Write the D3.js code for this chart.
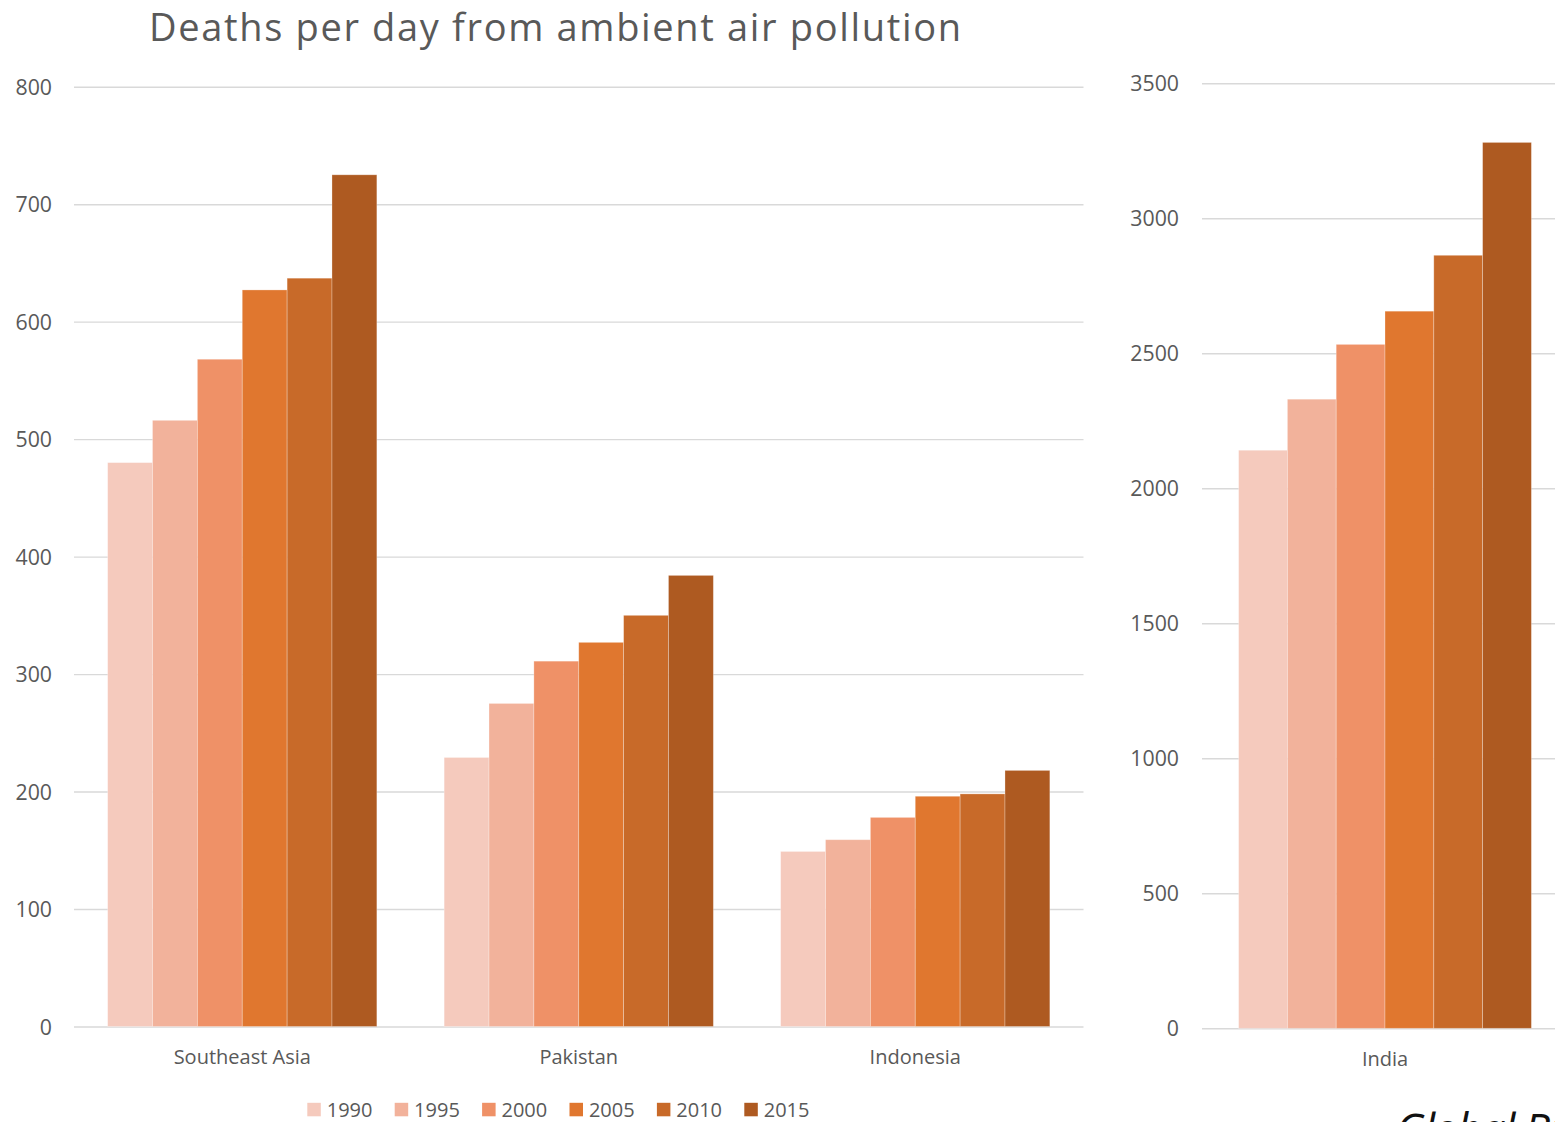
<!DOCTYPE html>
<html>
<head>
<meta charset="utf-8">
<script src="https://cdn.jsdelivr.net/npm/d3@7"></script>
<style>
  html, body { margin: 0; padding: 0; background: #fff; overflow: hidden; }
  svg { display: block; font-family: "Open Sans", "Noto Sans", sans-serif; }
</style>
</head>
<body>
<svg id="chart" width="1555" height="1122"></svg>
<script>
// Deaths per day from ambient air pollution, by region and year
const years = ["1990", "1995", "2000", "2005", "2010", "2015"];
const regions = ["Southeast Asia", "Pakistan", "Indonesia"];
const southeastAsia = [480, 516, 568, 627, 637, 725];
const pakistan = [229, 275, 311, 327, 350, 384];
const indonesia = [149, 159, 178, 196, 198, 218];
const indiaCategory = ["India"];
const india = [2141, 2330, 2533, 2656, 2863, 3281];
const leftTicks = [0, 100, 200, 300, 400, 500, 600, 700, 800];
const rightTicks = [0, 500, 1000, 1500, 2000, 2500, 3000, 3500];
const colors = ["#F5CABD", "#F2B29B", "#EF9167", "#E0772F", "#C86A29", "#AE5A21"];

const regionValues = [southeastAsia, pakistan, indonesia];
const leftRows = regions.map((r, i) => ({ name: r, values: regionValues[i] }));
const rightRows = indiaCategory.map(r => ({ name: r, values: india }));

const svg = d3.select("#chart");
const textGray = "#595959";
const gridColor = "#D9D9D9";

// Title: near-natural spacing, nudged to span its full width
const titleText = "Deaths per day from ambient air pollution";
const title = svg.append("text")
  .attr("x", 149).attr("y", 40.5)
  .attr("fill", textGray)
  .style("font-size", "38px")
  .text(titleText);
const tw = title.node().getComputedTextLength();
title.style("letter-spacing", ((812 - tw) / (titleText.length - 1)) + "px");

function panel(rows, tickVals, domainMax, xRange, yRange, labelPad, catBaselineOffset) {
  const g = svg.append("g");
  const y = d3.scaleLinear().domain([0, domainMax]).range(yRange);
  const x0 = d3.scaleBand().domain(rows.map(d => d.name)).range(xRange)
    .paddingInner(0.2).paddingOuter(0.1);
  const x1 = d3.scaleBand().domain(years).range([0, x0.bandwidth()]);
  const gridStart = xRange[0];
  const gridEnd = xRange[1];

  // value axis with full-width gridlines
  const yAxis = d3.axisLeft(y).tickValues(tickVals)
    .tickSize(-(gridEnd - gridStart)).tickPadding(labelPad)
    .tickFormat(d3.format("d"));
  const ya = g.append("g").attr("transform", `translate(${gridStart},0)`).call(yAxis);
  ya.select(".domain").remove();
  ya.selectAll(".tick line").attr("stroke", gridColor).attr("stroke-width", 1.4);
  ya.selectAll(".tick text").attr("fill", textGray)
    .style("font-size", "21.3px").style("font-family", "'Open Sans', sans-serif")
    .attr("dy", "0.36em");

  // bars
  const groups = g.selectAll("g.cat").data(rows).join("g")
    .attr("class", "cat")
    .attr("transform", d => `translate(${x0(d.name)},0)`);
  groups.selectAll("rect").data(d => d.values.map((v, i) => ({ year: years[i], v, i })))
    .join("rect")
    .attr("x", d => x1(d.year))
    .attr("width", x1.bandwidth())
    .attr("y", d => y(d.v))
    .attr("height", d => y(0) - y(d.v))
    .attr("fill", d => colors[d.i])
    .attr("stroke", "#ffffff").attr("stroke-opacity", 0.35).attr("stroke-width", 0.8);

  // category axis labels
  const xAxis = d3.axisBottom(x0).tickSize(0).tickPadding(0);
  const xa = g.append("g").attr("transform", `translate(0,${y(0)})`).call(xAxis);
  xa.select(".domain").remove();
  xa.selectAll(".tick text").attr("fill", textGray)
    .style("font-size", "20px").style("font-family", "'Open Sans', sans-serif")
    .attr("y", catBaselineOffset).attr("dy", 0);
  return g;
}

panel(leftRows, leftTicks, 800, [74, 1083.5], [1026.5, 86.7], 22, 37.5);
panel(rightRows, rightTicks, 3500, [1202, 1568], [1028.3, 83.3], 23, 37.5);

// legend
const legend = svg.append("g");
const lg = legend.selectAll("g").data(years).join("g")
  .attr("transform", (d, i) => `translate(${307.3 + i * 87.4},1102.8)`);
lg.append("rect").attr("width", 13.5).attr("height", 13.5)
  .attr("fill", (d, i) => colors[i]);
lg.append("text").attr("x", 19.4).attr("y", 13.8)
  .attr("fill", textGray).style("font-size", "20px")
  .text(d => d);

// source note along the bottom right
svg.append("text")
  .attr("x", 1396).attr("y", 1145)
  .attr("fill", "#111")
  .style("font-size", "43px").style("font-style", "italic")
  .style("letter-spacing", "-1px")
  .text("Global Burden of Disease");
</script>
</body>
</html>
